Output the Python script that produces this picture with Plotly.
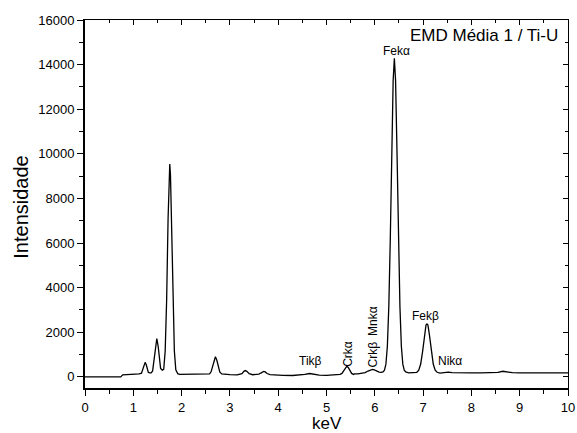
import plotly.graph_objects as go

# Energy (keV) and counts
kev = [0, 0.5, 0.74, 0.78, 0.85, 0.95, 1.05, 1.12, 1.17, 1.20, 1.22, 1.245, 1.27, 1.29, 1.31,
       1.34, 1.37, 1.40, 1.43, 1.455, 1.487, 1.515, 1.54, 1.565, 1.60, 1.63, 1.66, 1.69, 1.72,
       1.74, 1.755, 1.77, 1.79, 1.82, 1.85, 1.88, 1.92, 1.96, 2.1, 2.3, 2.5, 2.58, 2.61, 2.64,
       2.67, 2.70, 2.73, 2.76, 2.79, 2.83, 2.9, 3.0, 3.15, 3.22, 3.25, 3.29, 3.32, 3.35, 3.40,
       3.47, 3.55, 3.60, 3.64, 3.67, 3.70, 3.73, 3.77, 3.83, 3.95, 4.1, 4.3, 4.45, 4.55, 4.65,
       4.75, 4.85, 5.0, 5.15, 5.25, 5.28, 5.32, 5.36, 5.39, 5.42, 5.45, 5.48, 5.52, 5.56, 5.58,
       5.65, 5.72, 5.80, 5.86, 5.91, 5.95, 5.99, 6.04, 6.09, 6.13, 6.17, 6.20, 6.23, 6.26, 6.29,
       6.32, 6.35, 6.38, 6.405, 6.43, 6.46, 6.49, 6.52, 6.55, 6.58, 6.61, 6.64, 6.7, 6.8, 6.87,
       6.91, 6.95, 6.99, 7.03, 7.06, 7.08, 7.10, 7.13, 7.17, 7.21, 7.25, 7.29, 7.35, 7.45, 7.52,
       7.6, 7.8, 8.0, 8.2, 8.4, 8.55, 8.65, 8.75, 8.85, 9.0, 9.3, 9.6, 9.8, 10.0]
counts = [0, 0, 0, 90, 100, 110, 110, 130, 165, 345, 530, 650, 530, 345, 205,
          175, 180, 265, 700, 1285, 1720, 1370, 780, 380, 300, 340, 1160, 3420, 7090,
          9030, 9540, 9030, 7090, 3420, 1160, 320, 140, 110, 110, 115, 120, 130, 225, 440,
          745, 900, 745, 440, 225, 130, 110, 100, 90, 110, 140, 245, 280, 245, 140,
          95, 90, 120, 170, 220, 240, 220, 150, 100, 80, 70, 60, 70, 110, 150,
          120, 80, 70, 80, 110, 115, 155, 295, 420, 475, 420, 295, 155, 110, 130,
          130, 150, 190, 260, 310, 330, 310, 250, 210, 200, 220, 300, 570, 1370, 3160,
          6110, 10050, 13290, 14280, 13290, 10050, 6110, 3160, 1370, 570, 300, 220, 180, 190, 205,
          295, 575, 1145, 1890, 2325, 2370, 2325, 1890, 1145, 575, 295, 205, 170, 190, 210,
          185, 170, 180, 175, 180, 200, 250, 220, 185, 180, 180, 175, 180, 180]

# Peak labels: text, x (keV), y (counts), angle
label_text = ["Fekα", "Fekβ", "Nikα", "Tikβ", "Crkα", "Crkβ", "Mnkα"]
label_x = [6.44, 7.04, 7.56, 4.66, 5.445, 5.96, 5.96]
label_y = [14600, 2750, 690, 690, 1030, 1000, 2500]
label_angle = [0, 0, 0, 0, -90, -90, -90]

chart_title = "EMD Média 1 / Ti-U"
x_title = "keV"
y_title = "Intensidade"

FONT = "Liberation Sans, Arial, sans-serif"

fig = go.Figure()
fig.add_trace(go.Scatter(x=kev, y=counts, mode="lines",
                         line=dict(color="black", width=1.3),
                         showlegend=False, hoverinfo="skip"))
# invisible trace to make the mirrored axes exist
fig.add_trace(go.Scatter(x=kev, y=counts, mode="lines", xaxis="x2", yaxis="y2",
                         line=dict(color="rgba(0,0,0,0)", width=0),
                         showlegend=False, hoverinfo="skip"))

annotations = []
for t, x, y, a in zip(label_text, label_x, label_y, label_angle):
    annotations.append(dict(text=t, x=x, y=y, xref="x", yref="y", showarrow=False,
                            textangle=a, font=dict(size=12, color="black", family=FONT),
                            xanchor="center", yanchor="middle"))
annotations.append(dict(text=chart_title, x=0.983, y=0.957, xref="paper", yref="paper",
                        showarrow=False, xanchor="right", yanchor="middle",
                        font=dict(size=17, color="black", family=FONT)))
annotations.append(dict(text=x_title, x=0.5, y=-0.097, xref="paper", yref="paper",
                        showarrow=False, xanchor="center", yanchor="middle",
                        font=dict(size=17, color="black", family=FONT)))
annotations.append(dict(text=y_title, x=-0.1325, y=0.49, xref="paper", yref="paper",
                        showarrow=False, xanchor="center", yanchor="middle", textangle=-90,
                        font=dict(size=20, color="black", family=FONT)))

fig.update_layout(
    width=577, height=433,
    margin=dict(l=85, r=9, t=20, b=45),
    paper_bgcolor="white", plot_bgcolor="white",
    font=dict(family=FONT, color="black", size=13),
    annotations=annotations,
    xaxis=dict(range=[0, 10], tick0=0, dtick=1, ticks="outside", ticklen=6, tickwidth=1,
               tickcolor="black", showline=True, linecolor="black", linewidth=2,
               showgrid=False, zeroline=False, tickfont=dict(size=13), automargin=False,
               minor=dict(dtick=0.5, ticks="outside", ticklen=4, tickcolor="black", showgrid=False)),
    yaxis=dict(range=[-500, 16000], tick0=0, dtick=2000, ticks="outside", ticklen=6, tickwidth=1,
               tickcolor="black", showline=True, linecolor="black", linewidth=2,
               showgrid=False, zeroline=False, tickfont=dict(size=13), automargin=False,
               tickformat="d",
               minor=dict(dtick=1000, tick0=0, ticks="outside", ticklen=4, tickcolor="black", showgrid=False)),
    xaxis2=dict(range=[0, 10], overlaying="x", side="top", anchor="y", tick0=0, dtick=1,
                ticks="inside", ticklen=5, tickcolor="black", showticklabels=False,
                showline=True, linecolor="black", linewidth=1, showgrid=False, zeroline=False,
                automargin=False,
                minor=dict(dtick=0.5, ticks="inside", ticklen=3, tickcolor="black", showgrid=False)),
    yaxis2=dict(range=[-500, 16000], overlaying="y", side="right", anchor="x", tick0=0, dtick=2000,
                ticks="inside", ticklen=5, tickcolor="black", showticklabels=False,
                showline=True, linecolor="black", linewidth=1, showgrid=False, zeroline=False,
                automargin=False,
                minor=dict(dtick=1000, tick0=0, ticks="inside", ticklen=3, tickcolor="black", showgrid=False)),
)

fig.write_html("out.html")
